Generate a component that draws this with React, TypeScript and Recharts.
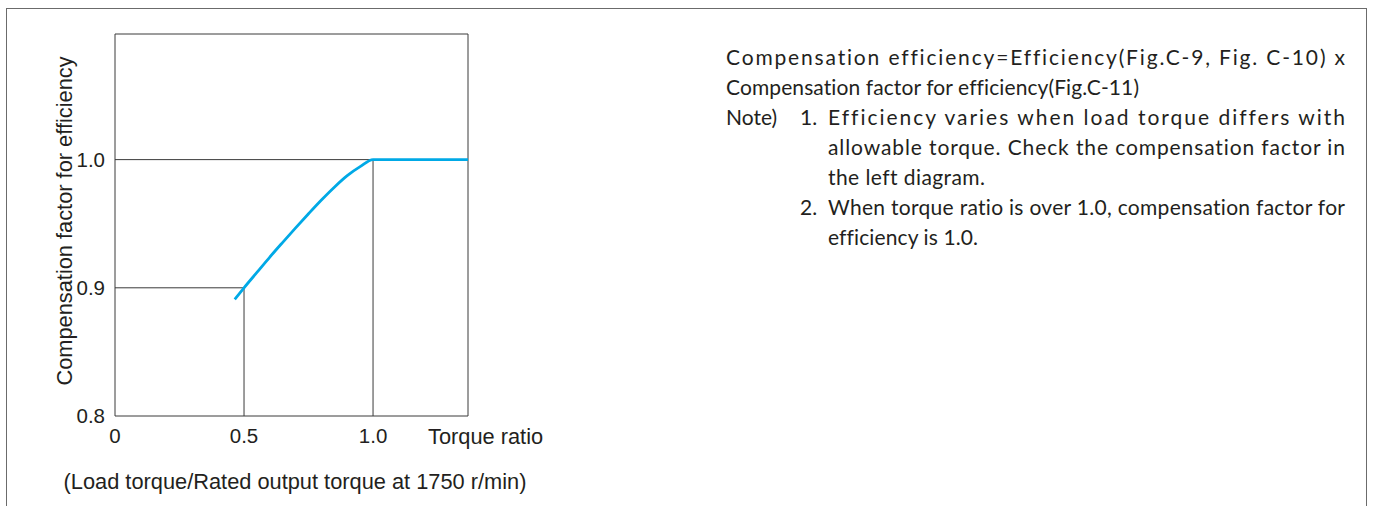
import React from "react";
import {
  LineChart,
  Line,
  XAxis,
  YAxis,
  ReferenceLine,
  ReferenceArea,
} from "recharts";

const torqueRatio = [0.464, 0.5, 0.55, 0.6, 0.65, 0.7, 0.75, 0.8, 0.85, 0.9, 0.95, 1.0, 1.368];
const compFactor = [0.891, 0.9, 0.912, 0.924, 0.9355, 0.9468, 0.9578, 0.9685, 0.9785, 0.9875, 0.9945, 1.0, 1.0];

const xTicks = [0, 0.5, 1.0];
const yTicks = [0.8, 0.9, 1.0];
const xDomain = [0, 1.368];
const yDomain = [0.8, 1.098];

// drop lines from the curve down to the axes
const guideX = [0.5, 1.0];
const guideY = [0.9, 1.0];

const noteLines = [
  "Compensation efficiency=Efficiency(Fig.C-9, Fig. C-10) x",
  "Compensation factor for efficiency(Fig.C-11)",
  "Efficiency varies when load torque differs with",
  "allowable torque.  Check the compensation factor in",
  "the left diagram.",
  "When torque ratio is over 1.0, compensation factor for",
  "efficiency is 1.0.",
];
const noteMarks = ["Note)", "1.", "2."];

const data = torqueRatio.map((x, i) => ({ x, y: compFactor[i] }));

const chartFont = "'Liberation Sans', Arial, Helvetica, sans-serif";
const noteFont = "Lato, 'Open Sans', sans-serif";
const ink = "#231f20";
const rule = "#3a3a3a";

function YTitle(props: any) {
  const vb = props.viewBox;
  const cx = 64;
  const cy = vb.y + vb.height / 2 - 4;
  return (
    <text
      x={cx}
      y={cy}
      transform={`rotate(-90, ${cx}, ${cy})`}
      textAnchor="middle"
      dominantBaseline="central"
      fontSize={21.8}
      fontFamily={chartFont}
      fill={ink}
    >
      Compensation factor for efficiency
    </text>
  );
}

function CompChart() {
  return (
    <LineChart
      width={560}
      height={506}
      data={data}
      margin={{ top: 34, right: 92, bottom: 50, left: 55 }}
    >
      <XAxis
        dataKey="x"
        type="number"
        domain={xDomain}
        ticks={xTicks}
        allowDataOverflow
        height={40}
        axisLine={false}
        tickLine={false}
        tickSize={0}
        tickMargin={12}
        tickFormatter={(v: number) => (v === 0 ? "0" : v.toFixed(1))}
        tick={{ fontSize: 20.5, fontFamily: chartFont, fill: ink }}
        label={{
          value: "Torque ratio",
          position: "right",
          offset: -40,
          fontSize: 21.8,
          fontFamily: chartFont,
          fill: ink,
        }}
      />
      <YAxis
        type="number"
        domain={yDomain}
        ticks={yTicks}
        allowDataOverflow
        width={60}
        axisLine={false}
        tickLine={false}
        tickSize={0}
        tickMargin={10}
        tickFormatter={(v: number) => v.toFixed(1)}
        tick={{ fontSize: 20.5, fontFamily: chartFont, fill: ink }}
        label={<YTitle />}
      />
      <ReferenceArea
        x1={xDomain[0]}
        x2={xDomain[1]}
        y1={yDomain[0]}
        y2={yDomain[1]}
        fill="none"
        fillOpacity={0}
        stroke={rule}
        strokeWidth={1}
      />
      {guideX.map((gx, i) => (
        <ReferenceLine
          key={"h" + i}
          segment={[
            { x: 0, y: guideY[i] },
            { x: gx, y: guideY[i] },
          ]}
          stroke={rule}
          strokeWidth={1}
        />
      ))}
      {guideX.map((gx, i) => (
        <ReferenceLine
          key={"v" + i}
          segment={[
            { x: gx, y: yDomain[0] },
            { x: gx, y: guideY[i] },
          ]}
          stroke={rule}
          strokeWidth={1}
        />
      ))}
      <Line
        type="monotone"
        dataKey="y"
        stroke="#00a9e6"
        strokeWidth={2.8}
        dot={false}
        activeDot={false}
        isAnimationActive={false}
      />
    </LineChart>
  );
}

function Notes() {
  // [x, baseline, width] per line
  const layout = [
    [726, 65, 619],
    [726, 95, 413],
    [828, 125, 517],
    [828, 155, 517],
    [828, 185, 157],
    [828, 215, 517],
    [828, 245, 150],
  ];
  const marks = [
    [726, 125],
    [800, 125],
    [800, 215],
  ];
  return (
    <svg
      width={1375}
      height={300}
      style={{ position: "absolute", left: 0, top: 0 }}
    >
      <g
        fontFamily={noteFont}
        fontSize={21}
        fill={ink}
        style={{ whiteSpace: "pre", fontVariantLigatures: "none" }}
      >
        {noteLines.map((s, i) => (
          <text
            key={i}
            x={layout[i][0]}
            y={layout[i][1]}
            textLength={layout[i][2]}
            lengthAdjust="spacing"
          >
            {s}
          </text>
        ))}
        {noteMarks.map((s, i) => (
          <text key={"m" + i} x={marks[i][0]} y={marks[i][1]}>
            {s}
          </text>
        ))}
      </g>
    </svg>
  );
}

export default function App() {
  return (
    <div
      style={{
        position: "fixed",
        left: 0,
        top: 0,
        width: 1375,
        height: 506,
        background: "#fff",
        overflow: "hidden",
      }}
    >
      <div
        style={{
          position: "absolute",
          left: 6,
          top: 8,
          width: 1361,
          height: 600,
          boxSizing: "border-box",
          border: "1px solid #6b6b6b",
          borderBottom: "none",
        }}
      />
      <div style={{ position: "absolute", left: 0, top: 0 }}>
        <CompChart />
      </div>
      <div
        style={{
          position: "absolute",
          left: 295,
          top: 469,
          transform: "translateX(-50%)",
          whiteSpace: "nowrap",
          fontFamily: chartFont,
          fontSize: 21.8,
          lineHeight: "25px",
          color: ink,
        }}
      >
        (Load torque/Rated output torque at 1750 r/min)
      </div>
      <Notes />
    </div>
  );
}
